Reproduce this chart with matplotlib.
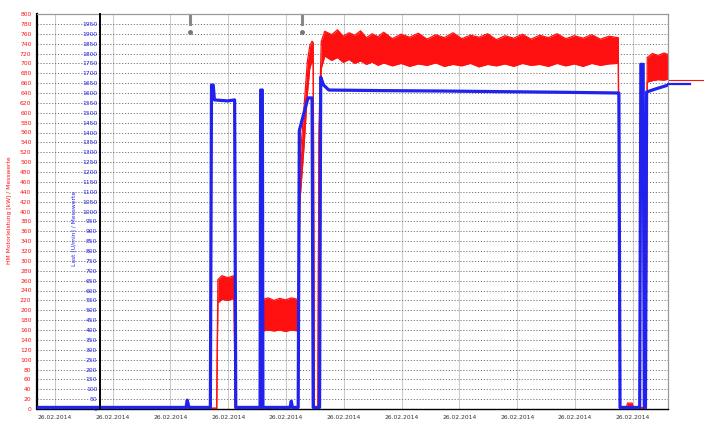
import matplotlib

matplotlib.use("Agg")
import matplotlib.pyplot as plt
import matplotlib.transforms as mtransforms
import numpy as np


# time axis in minutes from the left edge of the recording
T_END = 1092
DATE_TICKS = [31, 131, 231, 331, 431, 531, 631, 731, 831, 931, 1031]
DATE_LABELS = ["26.02.2014"] * len(DATE_TICKS)

# red channel (left scale 0..800): lower / upper edge of the noisy band
RED_T = [0, 311, 313, 320, 330, 341, 343, 386, 389, 391, 400, 410, 420, 430, 440, 452,
         455, 462, 468, 472, 476, 478, 480, 486, 488, 492,
         498, 510, 520, 530, 540, 550, 560, 570, 580, 590, 600, 615, 630, 645, 660, 675,
         690, 705, 720, 735, 750, 765, 780, 795, 810, 825, 840, 855, 870, 885, 900, 915,
         930, 945, 960, 975, 990, 1006,
         1009, 1020, 1022, 1030, 1032, 1054, 1056, 1065, 1075, 1085, 1092]
RED_LO = [0, 0, 215, 222, 220, 224, 0, 0, 0, 158, 160, 158, 160, 157, 160, 158,
          420, 530, 640, 690, 705, 700, 0, 0, 540, 690,
          715, 706, 712, 702, 708, 700, 705, 698, 703, 696, 701, 695, 700, 694, 699, 696,
          701, 694, 698, 695, 700, 693, 698, 695, 699, 694, 700, 696, 698, 694, 700, 695,
          699, 694, 700, 696, 699, 700,
          0, 0, 0, 0, 0, 0, 662, 665, 667, 666, 668]
RED_HI = [2, 2, 262, 270, 266, 270, 3, 3, 2, 222, 225, 220, 224, 221, 225, 222,
          500, 610, 705, 735, 745, 742, 3, 3, 570, 745,
          765, 758, 768, 755, 762, 757, 766, 752, 760, 754, 763, 750, 759, 753, 761, 749,
          758, 752, 762, 750, 757, 753, 760, 748, 756, 751, 759, 749, 757, 752, 760, 750,
          756, 751, 758, 749, 755, 752,
          3, 3, 12, 12, 3, 3, 712, 720, 716, 721, 718]

# blue channel (inner scale 0..2000)
BLUE_T = [0, 258, 260, 263, 300, 302, 305, 307, 330, 342, 344, 386, 387, 390, 391, 438,
          440, 442, 452, 454, 462, 469, 476, 478, 489, 491, 496, 505, 600, 700, 800, 900,
          1007, 1009, 1043, 1045, 1049, 1051, 1053, 1055, 1070, 1092]
BLUE_V = [8, 8, 45, 8, 8, 1640, 1640, 1565, 1560, 1565, 8, 8, 1615, 1615, 8, 8,
          40, 8, 8, 1410, 1500, 1575, 1575, 8, 8, 1680, 1640, 1615, 1612, 1610, 1607, 1604,
          1600, 8, 8, 1745, 1745, 8, 8, 1605, 1620, 1640]

RED_LAST = 666
BLUE_LAST = 1645
EVENTS = [265, 459]

RED = "#ff1010"
BLUE = "#2222ee"

fig = plt.figure(figsize=(7.13, 4.25), dpi=100)
ax = fig.add_axes([37 / 713, 1 - 409 / 425, 631 / 713, 395 / 425])
ax.set_xlim(0, T_END)
ax.set_ylim(0, 800)

ax.yaxis.grid(True, linestyle=(0, (1.2, 1.8)), color="#777777", linewidth=0.7)
ax.xaxis.grid(True, linestyle="-", color="#cccccc", linewidth=0.8)
ax.set_axisbelow(True)

ax.set_yticks(np.arange(0, 801, 20))
ax.tick_params(axis="y", length=0, pad=4, labelsize=4.3, labelcolor=RED)
ax.set_xticks(DATE_TICKS)
ax.set_xticklabels(DATE_LABELS)
ax.tick_params(axis="x", length=0, pad=4, labelsize=4.3, labelcolor="#333333")

for side in ["top", "right"]:
    ax.spines[side].set_color("#999999")
    ax.spines[side].set_linewidth(0.9)
ax.spines["left"].set_linewidth(1.6)
ax.spines["bottom"].set_linewidth(1.0)

ax.fill_between(RED_T, RED_LO, RED_HI, color=RED, linewidth=0)
ax.plot(RED_T, RED_HI, color=RED, linewidth=0.9)
ax.plot(RED_T, RED_LO, color=RED, linewidth=0.9)
ax.plot([T_END, 1153], [RED_LAST, RED_LAST], color=RED, linewidth=0.8, clip_on=False)

ax2 = ax.twinx()
ax2.set_ylim(0, 2000)
ax2.yaxis.tick_left()
ax2.spines["left"].set_position(("axes", 63 / 631))
ax2.spines["left"].set_visible(True)
ax2.spines["left"].set_linewidth(1.4)
ax2.spines["right"].set_visible(False)
ax2.spines["top"].set_visible(False)
ax2.spines["bottom"].set_visible(False)
ax2.set_yticks(np.arange(0, 1951, 50))
ax2.tick_params(axis="y", length=0, pad=2, labelsize=4.3, labelcolor=BLUE)

ax2.plot(BLUE_T, BLUE_V, color=BLUE, linewidth=2.3)
ax2.plot([T_END, 1130], [BLUE_LAST, BLUE_LAST], color=BLUE, linewidth=1.6, clip_on=False)

# event markers at the top edge
trans = mtransforms.blended_transform_factory(ax.transData, ax.transAxes)
for t in EVENTS:
    ax.plot([t, t], [0.975, 0.997], color="#888888", linewidth=2.2, transform=trans, clip_on=False)
    ax.plot([t], [0.955], marker="o", markersize=2.5, color="#777777", transform=trans, clip_on=False)

fig.text(10 / 713, 1 - 210 / 425, "HM Motorleistung [kW] / Messwerte", rotation=90,
         color=RED, fontsize=4.3, ha="center", va="center")
fig.text(74 / 713, 1 - 228 / 425, "Last [U/min] / Messwerte", rotation=90,
         color=BLUE, fontsize=4.3, ha="center", va="center")

fig.savefig("out.png", dpi=100)
